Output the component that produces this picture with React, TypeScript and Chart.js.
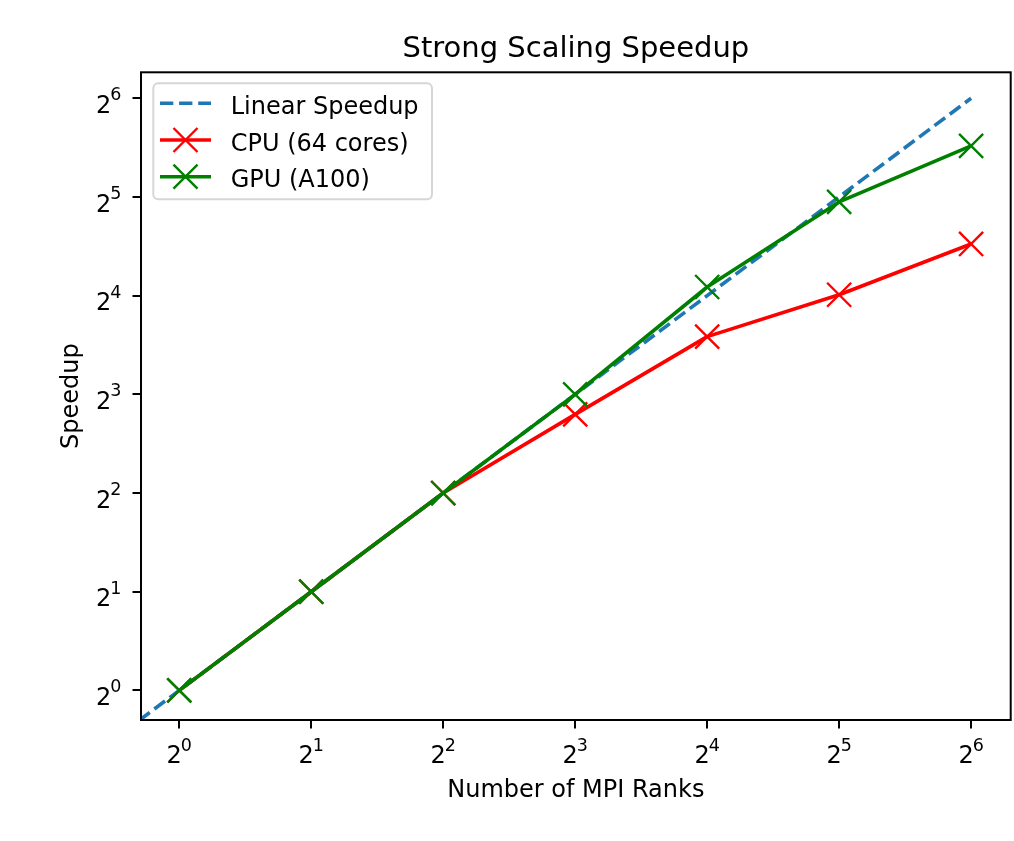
import React, { useEffect, useRef } from 'react';
import { Chart, registerables } from 'chart.js';

Chart.register(...registerables);

// ---- data ----
const ranks = [1, 2, 4, 8, 16, 32, 64];
const cpuSpeedup = [1, 2, 4, 6.95, 12.0, 16.1, 23.0];
const gpuSpeedup = [1, 2, 4, 8.0, 17.0, 30.9, 45.8];
const linearRanks = [0.5, 1, 2, 4, 8, 16, 32, 64];
const linearSpeedup = [0.5, 1, 2, 4, 8, 16, 32, 64];
const tickValues = [1, 2, 4, 8, 16, 32, 64];
const tickBase = '2';
const tickExponents = ['0', '1', '2', '3', '4', '5', '6'];
const seriesLabels = ['Linear Speedup', 'CPU (64 cores)', 'GPU (A100)'];
const chartTitle = 'Strong Scaling Speedup';
const xTitle = 'Number of MPI Ranks';
const yTitle = 'Speedup';

const FONT = "'DejaVu Sans'";
const TICK_PX = 24;
const SUP_PX = 17.5;

function drawPowerLabel(ctx: any, exp: string, x: number, baseline: number, align: 'center' | 'right') {
  ctx.font = `${TICK_PX}px ${FONT}`;
  const bw = ctx.measureText(tickBase).width;
  ctx.font = `${SUP_PX}px ${FONT}`;
  const sw = ctx.measureText(exp).width;
  const total = bw - 1 + sw;
  const left = align === 'center' ? x - total / 2 : x - total;
  ctx.textAlign = 'left';
  ctx.textBaseline = 'alphabetic';
  ctx.font = `${TICK_PX}px ${FONT}`;
  ctx.fillText(tickBase, left, baseline);
  ctx.font = `${SUP_PX}px ${FONT}`;
  ctx.fillText(exp, left + bw - 1, baseline - 12.6);
}

const decorPlugin = {
  id: 'mplDecor',
  afterDatasetsDraw(chart: any) {
    const { ctx, chartArea: a } = chart;
    ctx.save();
    ctx.strokeStyle = '#000';
    ctx.lineWidth = 2;
    ctx.setLineDash([]);
    ctx.strokeRect(a.left, a.top, a.right - a.left, a.bottom - a.top);
    ctx.restore();
  },
  afterDraw(chart: any) {
    const { ctx, chartArea: a } = chart;
    ctx.save();
    ctx.fillStyle = '#000';

    // power-of-two tick labels, placed by the library's scales
    const xs = chart.scales.x;
    const ys = chart.scales.y;
    tickValues.forEach((v, i) => {
      drawPowerLabel(ctx, tickExponents[i], xs.getPixelForValue(v), a.bottom + 43.3, 'center');
      drawPowerLabel(ctx, tickExponents[i], a.left - 19.5, ys.getPixelForValue(v) + 14.6, 'right');
    });

    // title centred over the axes
    ctx.font = `29px ${FONT}`;
    ctx.textAlign = 'center';
    ctx.textBaseline = 'alphabetic';
    ctx.fillText(chartTitle, (a.left + a.right) / 2, a.top - 15);

    // legend
    ctx.font = `24px ${FONT}`;
    const datasets = chart.data.datasets;
    let maxW = 0;
    datasets.forEach((d: any) => {
      maxW = Math.max(maxW, ctx.measureText(d.label).width);
    });
    const bx = a.left + 12.3;
    const by = a.top + 11;
    const bw = 77.4 + maxW + 13.4;
    const bh = 116;
    ctx.beginPath();
    (ctx as any).roundRect(bx, by, bw, bh, 5);
    ctx.fillStyle = 'rgba(255,255,255,0.8)';
    ctx.fill();
    ctx.strokeStyle = '#d6d6d6';
    ctx.lineWidth = 2;
    ctx.stroke();

    datasets.forEach((d: any, i: number) => {
      const cy = by + 20 + i * 36.7;
      const hx0 = bx + 6.7;
      const hx1 = bx + 57.7;
      ctx.strokeStyle = d.borderColor;
      ctx.lineWidth = d.borderWidth;
      ctx.lineCap = 'butt';
      ctx.setLineDash(d.borderDash || []);
      ctx.beginPath();
      ctx.moveTo(hx0, cy);
      ctx.lineTo(hx1, cy);
      ctx.stroke();
      ctx.setLineDash([]);
      if (d.pointRadius > 0) {
        const h = d.pointRadius * Math.SQRT1_2;
        const cx = (hx0 + hx1) / 2;
        ctx.lineWidth = d.pointBorderWidth;
        ctx.strokeStyle = d.pointBorderColor;
        ctx.beginPath();
        ctx.moveTo(cx - h, cy - h);
        ctx.lineTo(cx + h, cy + h);
        ctx.moveTo(cx + h, cy - h);
        ctx.lineTo(cx - h, cy + h);
        ctx.stroke();
      }
      ctx.fillStyle = '#000';
      ctx.textAlign = 'left';
      ctx.textBaseline = 'alphabetic';
      ctx.fillText(d.label, bx + 77.4, cy + 10.7);
    });
    ctx.restore();
  },
};

export default function App() {
  const ref = useRef<HTMLCanvasElement>(null);

  useEffect(() => {
    Chart.defaults.font.family = FONT;
    Chart.defaults.color = '#000';
    const pts = (xs: number[], ys: number[]) => xs.map((x, i) => ({ x, y: ys[i] }));
    const axisCommon = () => ({
      type: 'logarithmic' as const,
      bounds: 'data' as const,
      afterBuildTicks: (s: any) => {
        s.ticks = tickValues.map((v) => ({ value: v }));
      },
      ticks: { display: false, autoSkip: false },
      grid: {
        drawOnChartArea: false,
        drawTicks: true,
        tickLength: 8.5,
        tickWidth: 2,
        tickColor: '#000',
        color: '#000',
        lineWidth: 2,
      },
      border: { display: false },
    });
    const chart = new Chart(ref.current!, {
      type: 'line',
      data: {
        datasets: [
          {
            label: seriesLabels[0],
            data: pts(linearRanks, linearSpeedup),
            borderColor: '#1f77b4',
            borderWidth: 3.6,
            borderDash: [13.3, 5.8],
            pointRadius: 0,
            fill: false,
            tension: 0,
            order: 2,
          },
          {
            label: seriesLabels[1],
            data: pts(ranks, cpuSpeedup),
            borderColor: '#ff0000',
            borderWidth: 3.6,
            borderJoinStyle: 'round',
            pointStyle: 'crossRot',
            pointRadius: 17,
            pointBorderWidth: 2.4,
            pointBorderColor: '#ff0000',
            pointBackgroundColor: 'rgba(0,0,0,0)',
            fill: false,
            tension: 0,
            order: 1,
          },
          {
            label: seriesLabels[2],
            data: pts(ranks, gpuSpeedup),
            borderColor: '#008000',
            borderWidth: 3.6,
            borderJoinStyle: 'round',
            pointStyle: 'crossRot',
            pointRadius: 17,
            pointBorderWidth: 2.4,
            pointBorderColor: '#008000',
            pointBackgroundColor: 'rgba(0,0,0,0)',
            fill: false,
            tension: 0,
            order: 0,
          },
        ] as any,
      },
      options: {
        responsive: false,
        animation: false,
        devicePixelRatio: 1,
        layout: { autoPadding: false, padding: { top: 72.3, right: 3.3, bottom: 0, left: 0 } },
        plugins: {
          legend: { display: false },
          title: { display: false },
          tooltip: { enabled: false },
        },
        scales: {
          x: {
            ...axisCommon(),
            min: Math.pow(2, -0.29),
            max: Math.pow(2, 6.3),
            title: {
              display: true,
              text: xTitle,
              font: { size: 24 },
              color: '#000',
              padding: { top: 0, bottom: 36 },
            },
            afterFit: (s: any) => {
              s.height = 121;
              s.paddingLeft = 0;
              s.paddingRight = 0;
            },
          } as any,
          y: {
            ...axisCommon(),
            min: Math.pow(2, -0.3),
            max: Math.pow(2, 6.263),
            title: {
              display: true,
              text: yTitle,
              font: { size: 24 },
              color: '#000',
              padding: { top: 57.3, bottom: 0 },
            },
            afterFit: (s: any) => {
              s.width = 141;
              s.paddingTop = 0;
              s.paddingBottom = 0;
            },
          } as any,
        },
      },
      plugins: [decorPlugin],
    });
    return () => chart.destroy();
  }, []);

  return (
    <div style={{ position: 'absolute', left: 0, top: 0, width: 1014, height: 841, background: '#fff' }}>
      <canvas ref={ref} width={1014} height={841} style={{ display: 'block' }} />
    </div>
  );
}
